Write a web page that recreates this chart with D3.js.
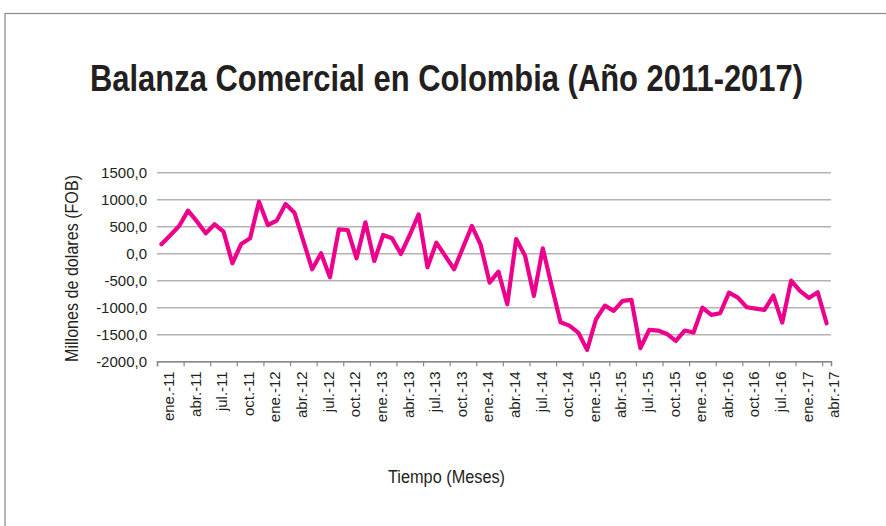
<!DOCTYPE html>
<html>
<head>
<meta charset="utf-8">
<script src="https://cdn.jsdelivr.net/npm/d3@7"></script>
<style>
  body { margin: 0; background: #fff; }
  text { fill: #231f20; }
</style>
</head>
<body>
<div id="chart"></div>
<script>
// monthly trade balance, ene-2011 .. abr-2017 (millones de dolares FOB)
var months = [];
var mNames = ["ene", "feb", "mar", "abr", "may", "jun", "jul", "ago", "sep", "oct", "nov", "dic"];
for (var yr = 11; yr <= 17; yr++) {
  for (var m = 0; m < 12; m++) {
    if (yr == 17 && m > 3) break;
    months.push(mNames[m] + ".-" + yr);
  }
}

var balance = [
  167, 333, 506, 790, 590, 370, 537, 401, -185, 173, 278, 956,
  524, 605, 913, 753, 228, -296, 0, -444, 444, 432, -93, 574,
  -142, 339, 278, -12, 339, 722, -259, 197, -49, -296, 105, 506,
  154, -543, -339, -944, 265, -43, -790, 93, -605, -1277, -1339, -1468,
  -1789, -1222, -969, -1067, -882, -864, -1758, -1419, -1431, -1493, -1623, -1431,
  -1468, -1006, -1141, -1110, -728, -820, -999, -1024, -1049, -783, -1283, -506,
  -697, -826, -722, -1295
];

// labels as printed on the original axis (one every 3 months)
var xLabels = ["ene.-11", "abr.-11", "jul.-11", "oct.-11", "ene.-12", "abr.-12", "jul.-12", "oct.-12",
  "ene.-13", "abr.-13", "jul.-13", "oct.-13", "ene.-14", "abr.-14", "jul.-14", "oct.-14",
  "ene.-15", "abr.-15", "jul.-15", "oct.-15", "ene.-16", "abr.-16", "oct.-16", "jul.-16",
  "ene.-17", "abr.-17"];

var yTicks = [-2000, -1500, -1000, -500, 0, 500, 1000, 1500];

var W = 886, H = 526;
var plot = { left: 157, right: 831, top: 172.3, bottom: 361.3 };
var font = "'Liberation Sans Narrow', 'Liberation Sans', sans-serif";

var svg = d3.select("#chart").append("svg")
  .attr("width", W)
  .attr("height", H);

// outer frame
svg.append("rect")
  .attr("x", 5).attr("y", 13.5)
  .attr("width", 900).attr("height", 600)
  .attr("fill", "none")
  .attr("stroke", "#8a8a8a")
  .attr("stroke-width", 1.2);

svg.append("text")
  .attr("x", 446.5).attr("y", 91)
  .attr("text-anchor", "middle")
  .attr("textLength", 713)
  .attr("lengthAdjust", "spacingAndGlyphs")
  .style("font-family", font)
  .style("font-weight", "bold")
  .style("font-size", "37px")
  .text("Balanza Comercial en Colombia (Año 2011-2017)");

var x = d3.scaleLinear().domain([0, months.length]).range([plot.left, plot.right]);
var y = d3.scaleLinear().domain([-2000, 1500]).range([plot.bottom, plot.top]);

// gridlines + y labels
var yAxis = svg.append("g")
  .attr("transform", "translate(" + plot.left + ",0)")
  .call(d3.axisLeft(y)
    .tickValues(yTicks)
    .tickSize(-(plot.right - plot.left))
    .tickPadding(10)
    .tickFormat(function(d) { return d3.format(".1f")(d).replace(".", ",").replace("−", "-") }));
yAxis.select(".domain").remove();
yAxis.selectAll(".tick line")
  .attr("stroke", "#b3b3b3")
  .attr("stroke-width", 1.5);
yAxis.selectAll(".tick text")
  .style("font-family", font)
  .style("font-size", "15px")
  .attr("fill", "#231f20");

// x axis
var tickIdx = d3.range(0, months.length, 3);
var xAxis = svg.append("g")
  .attr("transform", "translate(0," + plot.bottom + ")")
  .call(d3.axisBottom(x).tickValues(tickIdx).tickSize(5).tickFormat(""));
xAxis.select(".domain").attr("stroke", "#888").attr("stroke-width", 1.5);
xAxis.selectAll(".tick line").attr("stroke", "#888").attr("stroke-width", 1.2);

svg.append("g")
  .selectAll("text")
  .data(xLabels)
  .enter()
  .append("text")
    .attr("transform", function(d, i) {
      return "translate(" + (x(i * 3 + 1.5) - 1.5) + "," + (plot.bottom + 10) + ") rotate(-90)";
    })
    .attr("text-anchor", "end")
    .attr("dy", "0.35em")
    .style("font-family", font)
    .style("font-size", "15px")
    .text(function(d) { return d });

// axis titles
svg.append("text")
  .attr("transform", "translate(78,268.5) rotate(-90)")
  .attr("text-anchor", "middle")
  .attr("textLength", 187)
  .attr("lengthAdjust", "spacingAndGlyphs")
  .style("font-family", font)
  .style("font-size", "18px")
  .text("Millones de dolares (FOB)");

svg.append("text")
  .attr("x", 446.5).attr("y", 483)
  .attr("text-anchor", "middle")
  .attr("textLength", 117)
  .attr("lengthAdjust", "spacingAndGlyphs")
  .style("font-family", font)
  .style("font-size", "18px")
  .text("Tiempo (Meses)");

// the series
var line = d3.line()
  .x(function(d, i) { return x(i + 0.5) })
  .y(function(d) { return y(d) });

svg.append("path")
  .datum(balance)
  .attr("d", line)
  .attr("fill", "none")
  .attr("stroke", "#ec008c")
  .attr("stroke-width", 4.2)
  .attr("stroke-linejoin", "round")
  .attr("stroke-linecap", "round");
</script>
</body>
</html>
